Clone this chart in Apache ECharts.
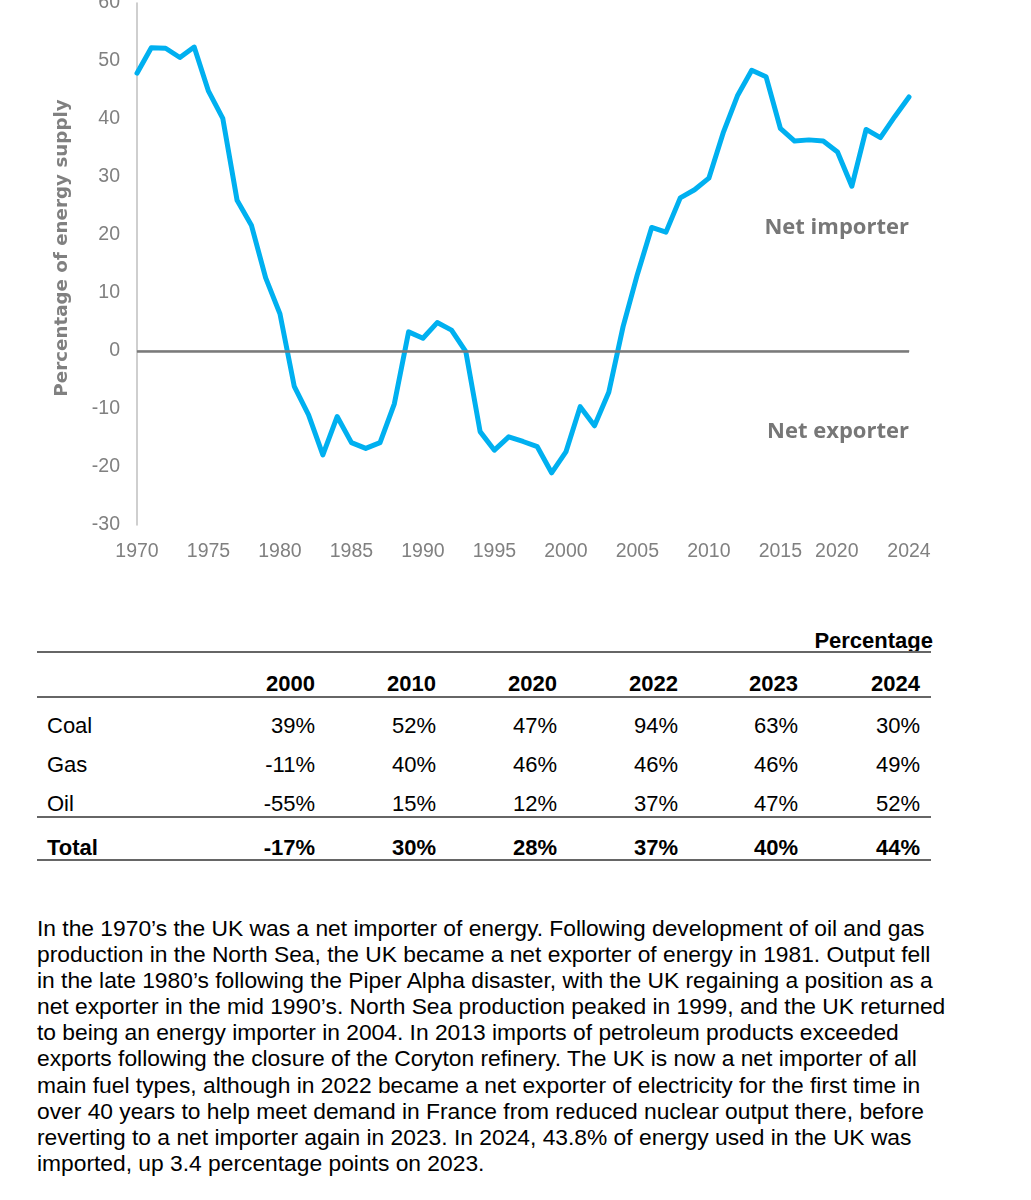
<!DOCTYPE html>
<html>
<head>
<meta charset="utf-8">
<script src="https://cdn.jsdelivr.net/npm/echarts@6/dist/echarts.min.js"></script>
<style>
  html, body { margin: 0; padding: 0; background: #fff; }
  body { width: 1031px; height: 1200px; position: relative; overflow: hidden; font-family: "Liberation Sans", Arial, sans-serif; }
  #chart { position: absolute; left: 0; top: 0; width: 1031px; height: 580px; }
  .cell { position: absolute; font-size: 22px; line-height: 26px; color: #000; white-space: nowrap; }
  .hr { position: absolute; left: 37px; width: 894px; height: 0; border-top: 2px solid #666; }
  #para { position: absolute; left: 37px; top: 915px; font-size: 22.8px; line-height: 26.1px; color: #000; white-space: pre; }
</style>
</head>
<body>
<div id="chart"></div>
<div id="table"></div>
<div id="para"></div>
<script>
// ---- Chart data ----
const years = [1970,1971,1972,1973,1974,1975,1976,1977,1978,1979,
               1980,1981,1982,1983,1984,1985,1986,1987,1988,1989,
               1990,1991,1992,1993,1994,1995,1996,1997,1998,1999,
               2000,2001,2002,2003,2004,2005,2006,2007,2008,2009,
               2010,2011,2012,2013,2014,2015,2016,2017,2018,2019,
               2020,2021,2022,2023,2024];
const importDependency = [47.9,52.3,52.2,50.6,52.4,44.8,40.1,26.0,21.7,12.6,
                          6.4,-6.1,-11.0,-17.9,-11.3,-15.8,-16.8,-15.8,-9.1,3.3,
                          2.2,4.9,3.6,-0.1,-13.9,-17.1,-14.8,-15.6,-16.5,-21.0,
                          -17.4,-9.6,-12.9,-7.1,4.2,13.2,21.3,20.5,26.4,27.8,
                          29.8,37.6,44.0,48.4,47.3,38.4,36.2,36.4,36.2,34.3,
                          28.4,38.2,36.8,40.4,43.8];
const yTicks = { min: -30, max: 60, interval: 10 };
const xTicks = { min: 1970, max: 2024, interval: 5 };
const yAxisTitle = "Percentage of energy supply";
const zoneLabels = ["Net importer", "Net exporter"];

// ---- Table data ----
const tableUnit = "Percentage";
const tableYears = ["2000", "2010", "2020", "2022", "2023", "2024"];
const tableRows = ["Coal", "Gas", "Oil"];
const coalVals = ["39%", "52%", "47%", "94%", "63%", "30%"];
const gasVals  = ["-11%", "40%", "46%", "46%", "46%", "49%"];
const oilVals  = ["-55%", "15%", "12%", "37%", "47%", "52%"];
const totalLabel = "Total";
const totalVals = ["-17%", "30%", "28%", "37%", "40%", "44%"];

const paragraphLines = [
  "In the 1970\u2019s the UK was a net importer of energy. Following development of oil and gas",
  "production in the North Sea, the UK became a net exporter of energy in 1981. Output fell",
  "in the late 1980\u2019s following the Piper Alpha disaster, with the UK regaining a position as a",
  "net exporter in the mid 1990\u2019s. North Sea production peaked in 1999, and the UK returned",
  "to being an energy importer in 2004. In 2013 imports of petroleum products exceeded",
  "exports following the closure of the Coryton refinery. The UK is now a net importer of all",
  "main fuel types, although in 2022 became a net exporter of electricity for the first time in",
  "over 40 years to help meet demand in France from reduced nuclear output there, before",
  "reverting to a net importer again in 2023. In 2024, 43.8% of energy used in the UK was",
  "imported, up 3.4 percentage points on 2023."
];

// ---- Chart ----
const axisFont = "'Liberation Sans', Arial, sans-serif";
const axisFontSize = 19.5;
const gray = '#808080';
const chart = echarts.init(document.getElementById('chart'), null, { renderer: 'canvas' });
const seriesData = years.map((y, i) => [y, importDependency[i]]);
chart.setOption({
  animation: false,
  grid: { left: 137, right: 122, top: 3, bottom: 55, containLabel: false, outerBoundsMode: 'none' },
  xAxis: {
    type: 'value', min: xTicks.min, max: xTicks.max, interval: xTicks.interval,
    axisLine: { show: true, lineStyle: { color: '#bfbfbf', width: 1.5 } },
    axisTick: { show: false },
    splitLine: { show: false },
    axisLabel: {
      color: gray, fontSize: axisFontSize, fontFamily: axisFont, margin: 17,
      showMaxLabel: true, showMinLabel: true, hideOverlap: false,
      formatter: v => v === 2020 ? '{s|2020}' : String(v),
      rich: { s: { color: gray, fontSize: axisFontSize, fontFamily: axisFont, padding: [0, 30, 0, 0] } }
    }
  },
  yAxis: {
    type: 'value', min: yTicks.min, max: yTicks.max, interval: yTicks.interval,
    axisLine: { show: true, lineStyle: { color: '#bfbfbf', width: 1.5 } },
    axisTick: { show: false },
    splitLine: { show: false },
    axisLabel: { color: gray, fontSize: axisFontSize, fontFamily: axisFont, margin: 17 }
  },
  series: [{
    type: 'line',
    data: seriesData,
    showSymbol: false,
    symbol: 'none',
    lineStyle: { color: '#00B0F0', width: 5, cap: 'round', join: 'round' },
    markLine: {
      silent: true, symbol: ['none', 'none'], label: { show: false },
      lineStyle: { color: '#7a7a7a', width: 2.5, type: 'solid' },
      data: [{ yAxis: 0 }]
    },
    z: 3
  }],
  graphic: [
    { type: 'text', x: 62, y: 248, rotation: Math.PI / 2,
      style: { text: yAxisTitle, fill: gray, font: "bold 18.3px 'DejaVu Sans', sans-serif", align: 'center', verticalAlign: 'middle' } },
    { type: 'text', x: 909, y: 228,
      style: { text: zoneLabels[0], fill: '#777777', font: "bold 22px 'Open Sans', sans-serif", align: 'right', verticalAlign: 'middle' } },
    { type: 'text', x: 909, y: 432,
      style: { text: zoneLabels[1], fill: '#777777', font: "bold 22px 'Open Sans', sans-serif", align: 'right', verticalAlign: 'middle' } }
  ]
});

// ---- Table ----
const tbl = document.getElementById('table');
const colRight = [315, 436, 557, 678, 798, 920];
function addCell(text, xRight, xLeft, yCenter, bold) {
  const d = document.createElement('div');
  d.className = 'cell';
  d.textContent = text;
  if (xLeft != null) d.style.left = xLeft + 'px';
  else d.style.right = (1031 - xRight) + 'px';
  d.style.top = (yCenter - 13) + 'px';
  if (bold) d.style.fontWeight = 'bold';
  tbl.appendChild(d);
}
function addLine(y) {
  const d = document.createElement('div');
  d.className = 'hr';
  d.style.top = (y - 1) + 'px';
  tbl.appendChild(d);
}
addCell(tableUnit, 933, null, 641, true);
addLine(652);
tableYears.forEach((t, i) => addCell(t, colRight[i], null, 684, true));
addLine(697);
const rowVals = [coalVals, gasVals, oilVals];
const rowY = [726, 765, 804];
tableRows.forEach((r, ri) => {
  addCell(r, null, 47, rowY[ri], false);
  rowVals[ri].forEach((v, i) => addCell(v, colRight[i], null, rowY[ri], false));
});
addLine(817);
addCell(totalLabel, null, 47, 848, true);
totalVals.forEach((v, i) => addCell(v, colRight[i], null, 848, true));
addLine(860);

// ---- Paragraph ----
document.getElementById('para').textContent = paragraphLines.join('\n');
</script>
</body>
</html>
